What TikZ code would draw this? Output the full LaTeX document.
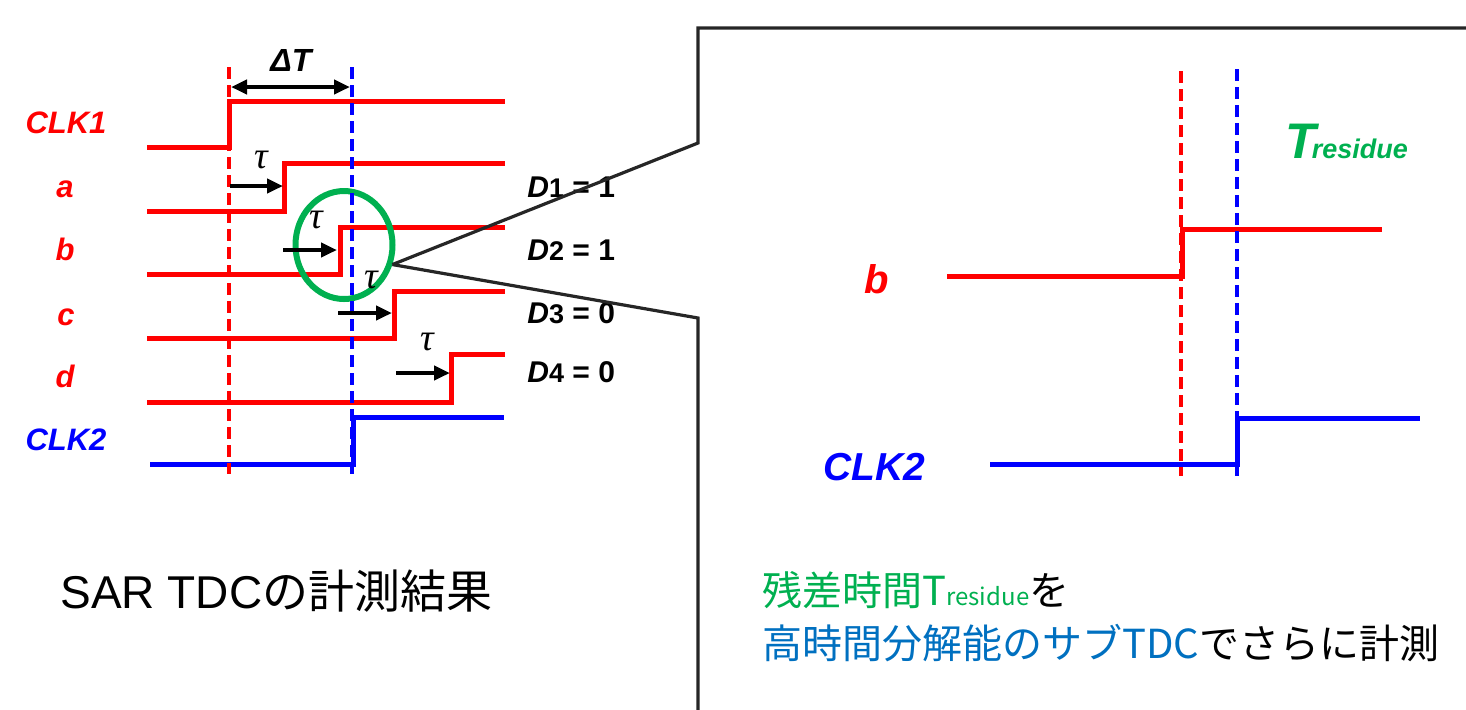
\documentclass[tikz,border=0pt]{standalone}
\usepackage{fontspec}
\setmainfont{Liberation Sans}
\newfontfamily\jpfont{Noto Sans CJK JP}
\newfontfamily\serifit{Liberation Serif}
\usetikzlibrary{arrows.meta,shapes.geometric}
\definecolor{sigred}{RGB}{255,0,0}
\definecolor{sigblue}{RGB}{0,0,255}
\definecolor{resgreen}{RGB}{0,176,80}
\definecolor{subblue}{RGB}{0,112,192}
\definecolor{framegray}{RGB}{38,38,38}
\newcommand{\dind}[1]{{\fontsize{13.5}{13.5}\selectfont\upshape #1}}

\begin{document}
\begin{tikzpicture}[x=0.5pt,y=-0.5pt,
	wave/.style={line width=2.5pt},
	edgeline/.style={dash pattern=on 6pt off 3pt, line width=1.8pt},
	delay/.style={-{Triangle[length=8pt,width=7pt]}, line width=2pt},
	sig/.style={inner sep=0pt, anchor=base, font=\fontsize{15.5}{15.5}\selectfont\bfseries\itshape},
	bigsig/.style={inner sep=0pt, anchor=base, font=\fontsize{20}{20}\selectfont\bfseries\itshape},
	dlab/.style={inner sep=0pt, anchor=base west, font=\fontsize{15}{15}\selectfont\bfseries},
	taulab/.style={inner sep=0pt, font=\serifit\fontsize{19}{19}\selectfont\itshape},
	frame/.style={line width=1.6pt, framegray}]
	\useasboundingbox (0,0) rectangle (1466,709);

	% left: SAR TDC waveforms
	\draw[wave, sigred] (147,147) -| (229,101) -- (505,101);
	\draw[wave, sigred] (147,211) -| (284,163) -- (505,163);
	\draw[wave, sigred] (147,274) -| (340,227) -- (505,227);
	\draw[wave, sigred] (147,338) -| (394,291) -- (505,291);
	\draw[wave, sigred] (147,402) -| (451,354) -- (505,354);
	\draw[wave, sigblue] (150,464) -| (353,417) -- (504,417);

	\node[sig, text=sigred] (clk1) at (66,133) {CLK1};
	\node[sig, text=sigred] (la) at (65,197) {a};
	\node[sig, text=sigred] (lb) at (65,260) {b};
	\node[sig, text=sigred] (lc) at (66,325) {c};
	\node[sig, text=sigred] (ld) at (65,387) {d};
	\node[sig, text=sigblue] (clk2) at (66,450) {CLK2};

	\node[draw=resgreen, line width=3pt, ellipse, minimum width=48.5pt, minimum height=54pt] (ring) at (344,245) {};

	\draw[edgeline, sigred] (229,67) -- (229,474);
	\draw[edgeline, sigblue] (352,67) -- (352,474);

	\draw[{Triangle[length=8pt,width=7pt]}-{Triangle[length=8pt,width=7pt]}, line width=2pt] (231,87) -- (350,87);
	\node[inner sep=0pt, anchor=base, font=\fontsize{16}{16}\selectfont\bfseries\itshape] (dT) at (291,71) {ΔT};

	\draw[delay] (230,186) -- (283,186);
	\draw[delay] (283,250) -- (337,250);
	\draw[delay] (338,313) -- (392,313);
	\draw[delay] (396,373) -- (450,373);
	\node[taulab] (tau1) at (261,160) {τ};
	\node[taulab] (tau2) at (316,220) {τ};
	\node[taulab] (tau3) at (371,280) {τ};
	\node[taulab] (tau4) at (427,342) {τ};

	\node[dlab] (d1) at (527,197) {\textit{D}\dind{1} = 1};
	\node[dlab] (d2) at (527,260) {\textit{D}\dind{2} = 1};
	\node[dlab] (d3) at (527,323) {\textit{D}\dind{3} = 0};
	\node[dlab] (d4) at (527,382) {\textit{D}\dind{4} = 0};

	\node[inner sep=0pt, anchor=base west, font=\fontsize{23}{23}\selectfont] (sar) at (60,608) {SAR TDC{\jpfont の計測結果}};

	% zoom frame
	\coordinate (fup) at (698,143);
	\coordinate (flow) at (698,318);
	\draw[frame] (ring.-22) -- (fup) -- (698,28) -- (1470,28);
	\draw[frame] (ring.-22) -- (flow) -- (698,712);

	% right: residue
	\draw[wave, sigred] (947,276) -| (1182,229) -- (1382,229);
	\draw[wave, sigblue] (990,464) -| (1237,418) -- (1420,418);
	\draw[edgeline, sigred] (1181,71) -- (1181,476);
	\draw[edgeline, sigblue] (1237,69) -- (1237,476);

	\node[bigsig, text=sigred] (rb) at (877,293) {b};
	\node[bigsig, text=sigblue, font=\fontsize{19.5}{19.5}\selectfont\bfseries\itshape] (rclk2) at (874,480) {CLK2};
	\node[inner sep=0pt, anchor=base west, text=resgreen, font=\bfseries\itshape] (tres) at (1285,158)
		{\fontsize{25}{25}\selectfont T\kern-2pt\fontsize{13.5}{13.5}\selectfont residue};

	\node[inner sep=0pt, anchor=base west, font=\jpfont\fontsize{20}{20}\selectfont] (line1) at (762,605)
		{\textcolor{resgreen}{残差時間T{\fontsize{12}{12}\selectfont residue}}を};
	\node[inner sep=0pt, anchor=base west, font=\jpfont\fontsize{20}{20}\selectfont] (line2) at (762,658)
		{\textcolor{subblue}{高時間分解能のサブTDC}でさらに計測};
\end{tikzpicture}
\end{document}
